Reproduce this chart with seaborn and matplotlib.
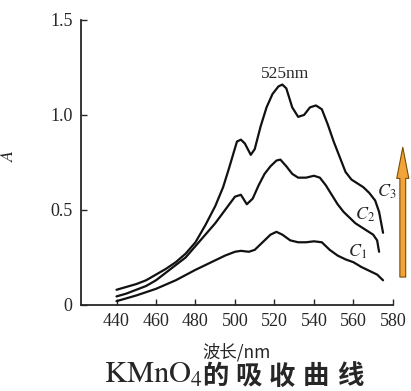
import matplotlib
matplotlib.use("Agg")
import matplotlib.pyplot as plt
import pandas as pd
import seaborn as sns

# wavelength (nm) / absorbance
wl_c3 = [440, 445, 450, 455, 460, 465, 470, 475, 480, 485, 490, 494, 497, 499, 501,
         503, 505, 508, 510, 513, 516, 519, 522, 524, 526, 529, 532, 535, 538, 541,
         544, 547, 550, 553, 556, 559, 562, 565, 568, 571, 573, 575]
a_c3 = [0.08, 0.095, 0.11, 0.13, 0.16, 0.19, 0.225, 0.27, 0.33, 0.42, 0.52, 0.62, 0.72,
        0.79, 0.86, 0.87, 0.85, 0.79, 0.82, 0.94, 1.04, 1.11, 1.15, 1.16, 1.14, 1.04,
        0.99, 1.00, 1.04, 1.05, 1.03, 0.95, 0.86, 0.78, 0.70, 0.66, 0.64, 0.62, 0.59,
        0.55, 0.49, 0.38]

wl_c2 = [440, 445, 450, 455, 460, 465, 470, 475, 480, 485, 490, 495, 500, 503, 506,
         509, 512, 515, 518, 521, 523, 526, 529, 532, 536, 540, 543, 546, 549, 552,
         555, 558, 561, 564, 567, 570, 572, 573]
a_c2 = [0.045, 0.06, 0.08, 0.10, 0.13, 0.17, 0.21, 0.25, 0.31, 0.37, 0.43, 0.50, 0.57,
        0.58, 0.53, 0.56, 0.63, 0.69, 0.73, 0.76, 0.765, 0.73, 0.69, 0.67, 0.67, 0.68,
        0.67, 0.63, 0.58, 0.53, 0.49, 0.46, 0.43, 0.41, 0.39, 0.37, 0.34, 0.28]

wl_c1 = [440, 450, 460, 470, 480, 490, 495, 500, 503, 507, 510, 514, 518, 521, 524,
         528, 532, 536, 540, 544, 548, 552, 556, 560, 564, 568, 572, 575]
a_c1 = [0.02, 0.05, 0.085, 0.13, 0.185, 0.235, 0.26, 0.28, 0.285, 0.28, 0.29, 0.33,
        0.37, 0.385, 0.37, 0.34, 0.33, 0.33, 0.335, 0.33, 0.29, 0.26, 0.24, 0.225,
        0.20, 0.18, 0.16, 0.13]

curve_names = ["$C_1$", "$C_2$", "$C_3$"]
label_pos = [(562.2, 0.279), (565.8, 0.474), (576.8, 0.595)]
xticks = [440, 460, 480, 500, 520, 540, 560, 580]
yticks = [0, 0.5, 1.0, 1.5]
ytick_labels = ["0", "0.5", "1.0", "1.5"]
title_chars = ["的", "吸", "收", "曲", "线"]

df = pd.concat([
    pd.DataFrame({"wl": wl_c1, "A": a_c1, "curve": "C1"}),
    pd.DataFrame({"wl": wl_c2, "A": a_c2, "curve": "C2"}),
    pd.DataFrame({"wl": wl_c3, "A": a_c3, "curve": "C3"}),
])

sns.set_style("ticks")
plt.rcParams["font.family"] = ["Liberation Serif", "Noto Sans CJK SC"]
plt.rcParams["mathtext.fontset"] = "stix"

fig = plt.figure(figsize=(4.11, 3.91), dpi=100)
ax = fig.add_axes([0.197, 0.22, 0.759, 0.729])

sns.lineplot(data=df, x="wl", y="A", units="curve", estimator=None,
             color="#111111", lw=1.6, sort=False, ax=ax)

ax.set_xlim(422, 580)
ax.set_ylim(0, 1.5)
ax.set_xticks(xticks)
ax.set_yticks(yticks)
ax.set_yticklabels(ytick_labels)
ax.tick_params(direction="in", length=4, width=1, labelsize=13, pad=6)
sns.despine(ax=ax)
for s in ["left", "bottom"]:
    ax.spines[s].set_linewidth(1.3)

ax.set_xlabel("波长/nm", fontsize=12.5, family=["Noto Sans CJK SC"], labelpad=9)
ax.set_ylabel("$A$", fontsize=13, rotation=90)
ax.yaxis.set_label_coords(-0.206, 0.526)

ax.text(525.5, 1.215, "525nm", ha="center", va="center", fontsize=12.5)
for name, (x, y) in zip(curve_names, label_pos):
    ax.text(x, y, name, ha="center", va="center", fontsize=13)

# orange arrow showing increasing concentration
ax.annotate("", xy=(585, 0.83), xytext=(585, 0.147),
            arrowprops=dict(arrowstyle="simple,head_length=1.6,head_width=0.62,tail_width=0.3",
                            mutation_scale=14, fc="#F2A33A", ec="#7A4E00", lw=0.8,
                            shrinkA=0, shrinkB=0),
            annotation_clip=False)

fig.text(0.494, 0.04, r"$\mathrm{KMnO_4}$", ha="right", va="center", fontsize=22)
for i, ch in enumerate(title_chars):
    fig.text(0.523 + i * 0.082, 0.036, ch, ha="center", va="center", fontsize=19,
             family=["Noto Sans CJK SC"], weight="bold")

fig.savefig("out.png", dpi=100)
